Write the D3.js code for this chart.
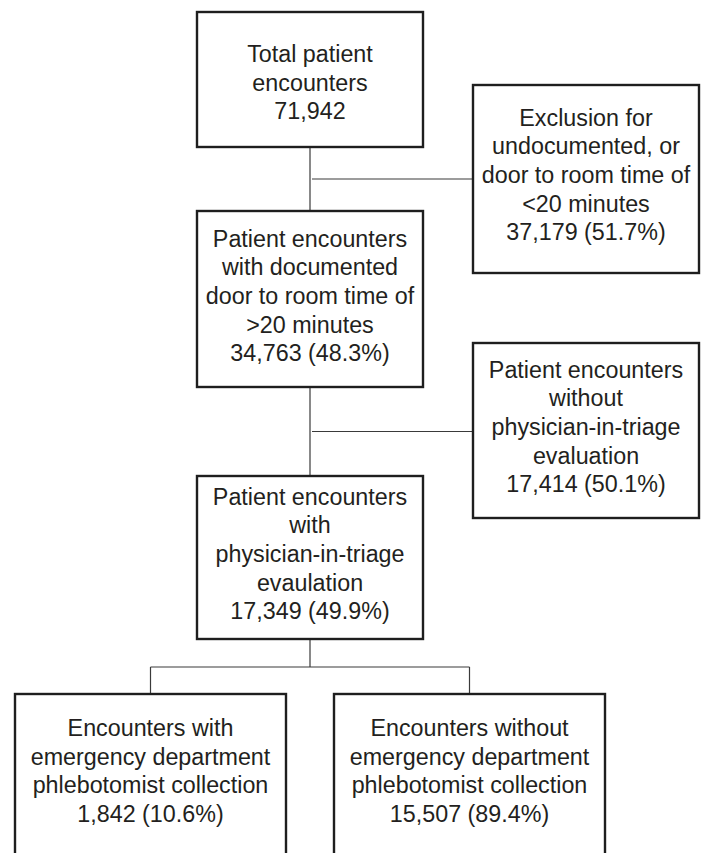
<!DOCTYPE html>
<html>
<head>
<meta charset="utf-8">
<script src="https://cdn.jsdelivr.net/npm/d3@7"></script>
<style>
  body { margin: 0; background: #fff; }
  svg { display: block; }
</style>
</head>
<body>
<svg id="flow" width="710" height="853"></svg>
<script>
// flowchart content
const nodeIds = ["total", "excluded", "documented", "noPit", "pit", "phleb", "noPhleb"];
const nodeLabels = [
  ["Total patient", "encounters"],
  ["Exclusion for", "undocumented, or", "door to room time of", "<20 minutes"],
  ["Patient encounters", "with documented", "door to room time of", ">20 minutes"],
  ["Patient encounters", "without", "physician-in-triage", "evaluation"],
  ["Patient encounters", "with", "physician-in-triage", "evaulation"],
  ["Encounters with", "emergency department", "phlebotomist collection"],
  ["Encounters without", "emergency department", "phlebotomist collection"]
];
const nodeCounts = [71942, 37179, 34763, 17414, 17349, 1842, 15507];
const nodePercents = [null, 51.7, 48.3, 50.1, 49.9, 10.6, 89.4];

// which box feeds which (side = exclusion branch off the main line)
const links = [
  { from: "total", to: "documented", side: "excluded" },
  { from: "documented", to: "pit", side: "noPit" },
  { from: "pit", split: ["phleb", "noPhleb"] }
];

// layout
const colOf = { total: "main", excluded: "side", documented: "main", noPit: "side", pit: "main", phleb: "left", noPhleb: "right" };
const colX = d3.scaleOrdinal().domain(["main", "side", "left", "right"]).range([310, 586, 150.5, 469.5]);
const colW = d3.scaleOrdinal().domain(["main", "side", "left", "right"]).range([226, 226, 271, 271]);
const boxY = { total: [12, 147], excluded: [85, 273], documented: [211, 387], noPit: [343, 518], pit: [476, 639], phleb: [694, 872], noPhleb: [694, 872] };
const textShift = { total: 11, excluded: 4, documented: 5, noPit: 4.5, pit: 4.5, phleb: -4, noPhleb: -4 };
const fontSize = 23.3;
const lineH = 28.7;

const fmt = d3.format(",");

const nodes = nodeIds.map((id, i) => {
  const lines = nodeLabels[i].slice();
  lines.push(nodePercents[i] == null ? fmt(nodeCounts[i]) : `${fmt(nodeCounts[i])} (${nodePercents[i]}%)`);
  const cx = colX(colOf[id]);
  const w = colW(colOf[id]);
  return { id, lines, cx, x0: cx - w / 2, x1: cx + w / 2, y0: boxY[id][0], y1: boxY[id][1] };
});
const byId = Object.fromEntries(nodes.map(n => [n.id, n]));

const svg = d3.select("#flow");

// connectors
const linkG = svg.append("g")
  .attr("fill", "none")
  .attr("stroke", "#3a3a3a")
  .attr("stroke-width", 1.2);

links.forEach((l) => {
  const a = byId[l.from];
  if (l.to) {
    const b = byId[l.to];
    linkG.append("line")
      .attr("x1", a.cx).attr("y1", a.y1)
      .attr("x2", a.cx).attr("y2", b.y0);
    const s = byId[l.side];
    const midY = (a.y1 + b.y0) / 2;
    linkG.append("line")
      .attr("x1", a.cx + 2).attr("y1", midY)
      .attr("x2", s.x0).attr("y2", midY);
  } else {
    const kids = l.split.map(k => byId[k]);
    const midY = a.y1 + 28;
    linkG.append("line")
      .attr("x1", a.cx).attr("y1", a.y1)
      .attr("x2", a.cx).attr("y2", midY);
    linkG.append("line")
      .attr("x1", d3.min(kids, k => k.cx)).attr("y1", midY)
      .attr("x2", d3.max(kids, k => k.cx)).attr("y2", midY);
    kids.forEach((k) => {
      linkG.append("line")
        .attr("x1", k.cx).attr("y1", midY)
        .attr("x2", k.cx).attr("y2", k.y0);
    });
  }
});

// boxes
const boxG = svg.append("g")
  .selectAll("g")
  .data(nodes)
  .enter()
  .append("g");

boxG.append("rect")
  .attr("x", d => d.x0)
  .attr("y", d => d.y0)
  .attr("width", d => d.x1 - d.x0)
  .attr("height", d => d.y1 - d.y0)
  .attr("fill", "#fff")
  .attr("stroke", "#1e1e1e")
  .attr("stroke-width", 2.4);

boxG.append("text")
  .attr("text-anchor", "middle")
  .attr("font-family", "'Liberation Sans', Arial, sans-serif")
  .attr("font-size", fontSize + "px")
  .attr("fill", "#231f20")
  .each(function (d) {
    const cy = (d.y0 + d.y1) / 2 + textShift[d.id];
    const n = d.lines.length;
    d3.select(this).selectAll("tspan")
      .data(d.lines)
      .enter()
      .append("tspan")
      .attr("x", d.cx)
      .attr("y", (t, i) => cy + (i - (n - 1) / 2) * lineH)
      .text(t => t);
  });
</script>
</body>
</html>
